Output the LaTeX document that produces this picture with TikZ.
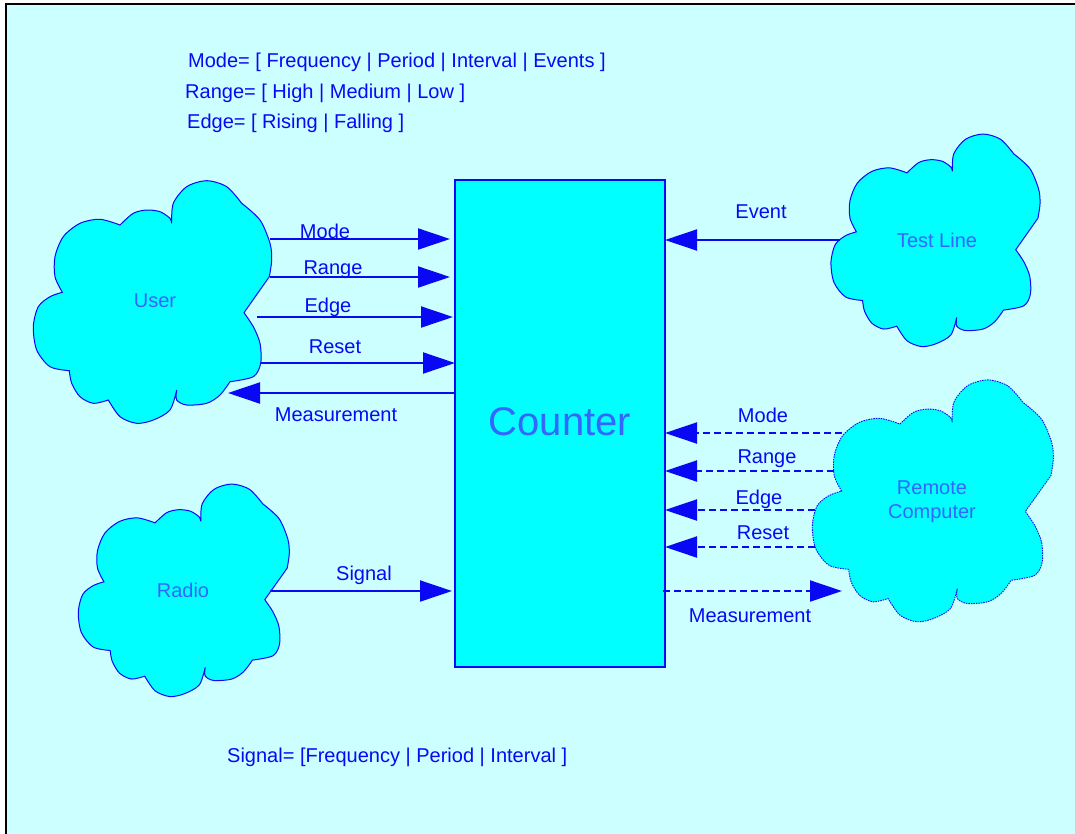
\documentclass[tikz,border=0pt]{standalone}
\usepackage{fontspec}
\setmainfont{Liberation Sans}
\usetikzlibrary{arrows.meta}

\definecolor{paper}{RGB}{204,255,255}
\definecolor{aqua}{RGB}{0,255,255}
\definecolor{ink}{RGB}{8,8,245}
\definecolor{softink}{RGB}{51,102,255}

\tikzset{
  lbl/.style={font=\fontsize{20}{24}\selectfont, text=ink, inner sep=0pt,
    text height=14.3pt, text depth=0pt},
  cloudtext/.style={font=\fontsize{20}{23.7}\selectfont, text=softink,
    inner sep=0pt, align=center},
  counterbox/.style={draw=ink, line width=2pt, fill=aqua, outer sep=0pt,
    minimum width=210pt, minimum height=487pt, inner sep=0pt,
    font=\fontsize{40}{48}\selectfont, text=softink, text depth=3pt},
  flow/.style={draw=ink, line width=2pt,
    -{Triangle[length=32pt,width=21pt]}},
  remoteflow/.style={flow, dash pattern=on 7pt off 4pt},
  solidcloud/.style={fill=aqua, draw=ink, line width=1pt},
  dottedcloud/.style={fill=aqua, draw=ink, line width=0.9pt,
    dash pattern=on 1.5pt off 1pt},
  pics/cloud/.style={code={
    \path[pic actions] (19.2,-78.7)
      -- plot[smooth] coordinates {(19.2,-78.7) (20.8,-98.7) (34.2,-115.3)
           (54.2,-121.3) (74.2,-115.3) (89.2,-98.7)}
      -- plot[smooth] coordinates {(89.2,-98.7) (107.5,-82) (117.5,-58.7)
           (119.2,-42) (116.8,-25.3)}
      -- (91.5,10.7)
      -- plot[smooth] coordinates {(91.5,10.7) (100.8,24.7) (107.5,41.3)
           (108.2,61.3) (100.8,74.7) (77.5,79.7)}
      -- plot[smooth] coordinates {(77.5,79.7) (67.5,93) (54.2,101.3)
           (34.2,103) (24.2,98) (24.2,88)}
      -- plot[smooth] coordinates {(24.2,88) (17.5,108) (0.8,118)
           (-15.8,121.3) (-32.5,114.7) (-44.2,98)}
      -- plot[smooth] coordinates {(-44.2,98) (-59.2,101.3) (-72.5,94.7)
           (-80.8,81.3) (-83.2,68.7)}
      -- plot[smooth] coordinates {(-83.2,68.7) (-102.5,64.7) (-115.8,48)
           (-119.2,24.7) (-114.2,4.7) (-102.5,-5.3) (-90.2,-9.7)}
      -- plot[smooth] coordinates {(-90.2,-9.7) (-97.5,-25.3) (-97.5,-45.3)
           (-89.2,-65.3) (-72.5,-78.7) (-52.5,-82.7) (-32.5,-77)}
      -- plot[smooth] coordinates {(-32.5,-77) (-19.2,-88.7) (-5.8,-92)
           (7.5,-90.3) (17.5,-83.7) (19.2,-78.7)}
      -- cycle;
  }}
}

\begin{document}
\begin{tikzpicture}[x=1pt, y=-1pt]
  \useasboundingbox (0,0) rectangle (1075,833);
  \fill[white] (0,0) rectangle (1075,833);
  \filldraw[fill=paper, draw=black, line width=1.7pt] (6,3.7) rectangle (1100,860);

  % legend of the value sets
  \node[lbl, anchor=west] (modeset)  at (188,60.3)  {Mode= [ Frequency | Period | Interval | Events ]};
  \node[lbl, anchor=west] (rangeset) at (185,91.3)  {Range= [ High | Medium | Low ]};
  \node[lbl, anchor=west] (edgeset)  at (187,121.7) {Edge= [ Rising | Falling ]};
  \node[lbl, anchor=west] (sigset)   at (227,755.3) {Signal= [Frequency | Period | Interval ]};

  % clouds
  \pic[solidcloud] at (152.5,302) {cloud};
  \pic[solidcloud, xscale=0.877, yscale=0.876] at (935.5,240.3) {cloud};
  \pic[solidcloud, xscale=0.885, yscale=0.876] at (183.8,590.3) {cloud};
  \pic[dottedcloud, xscale=1.011, yscale=0.997] at (932.8,500.8) {cloud};

  \node[cloudtext] (user)     at (155,301)   {User};
  \node[cloudtext] (testline) at (937,240)   {Test Line};
  \node[cloudtext] (radio)    at (183,590)   {Radio};
  \node[cloudtext] (remote)   at (932,502)   {Remote\\Computer};

  % the counter
  \node[counterbox] (counter) at (560,423.5) {Counter};

  % connector ends on the clouds
  \coordinate (uMode)  at (270,239);
  \coordinate (uRange) at (270,277);
  \coordinate (uEdge)  at (257,317);
  \coordinate (uReset) at (260,363);
  \coordinate (uMeas)  at (228,393);
  \coordinate (tEvent) at (840,240);
  \coordinate (rMode)  at (842,433);
  \coordinate (rRange) at (834,471);
  \coordinate (rEdge)  at (815,510);
  \coordinate (rReset) at (815,547);
  \coordinate (rMeas)  at (842,591);
  \coordinate (rSig)   at (270,591);

  % user links
  \draw[flow, shorten >=5pt] (uMode)  -- (uMode -| counter.west);
  \draw[flow, shorten >=5pt] (uRange) -- (uRange -| counter.west);
  \draw[flow, shorten >=2pt] (uEdge)  -- (uEdge -| counter.west);
  \draw[flow]                (uReset) -- (uReset -| counter.west);
  \draw[flow] (uMeas -| counter.west) -- (uMeas);

  % test line and radio
  \draw[flow] (tEvent) -- (tEvent -| counter.east);
  \draw[flow, shorten >=3pt] (rSig) -- (rSig -| counter.west);

  % remote computer links
  \draw[remoteflow] (rMode)  -- (rMode -| counter.east);
  \draw[remoteflow] (rRange) -- (rRange -| counter.east);
  \draw[remoteflow] (rEdge)  -- (rEdge -| counter.east);
  \draw[remoteflow] (rReset) -- (rReset -| counter.east);
  \draw[remoteflow] ([xshift=-2pt]counter.east |- rMeas) -- (rMeas);

  % connector labels
  \node[lbl] (lModeL)  at (325,231) {Mode};
  \node[lbl] (lRangeL) at (333,267) {Range};
  \node[lbl] (lEdgeL)  at (328,305) {Edge};
  \node[lbl] (lResetL) at (335,346) {Reset};
  \node[lbl] (lMeasL)  at (336,414) {Measurement};
  \node[lbl] (lEvent)  at (761,211) {Event};
  \node[lbl] (lModeR)  at (763,415) {Mode};
  \node[lbl] (lRangeR) at (767,456) {Range};
  \node[lbl] (lEdgeR)  at (759,497) {Edge};
  \node[lbl] (lResetR) at (763,532) {Reset};
  \node[lbl] (lMeasR)  at (750,615) {Measurement};
  \node[lbl] (lSignal) at (364,573) {Signal};
\end{tikzpicture}
\end{document}
